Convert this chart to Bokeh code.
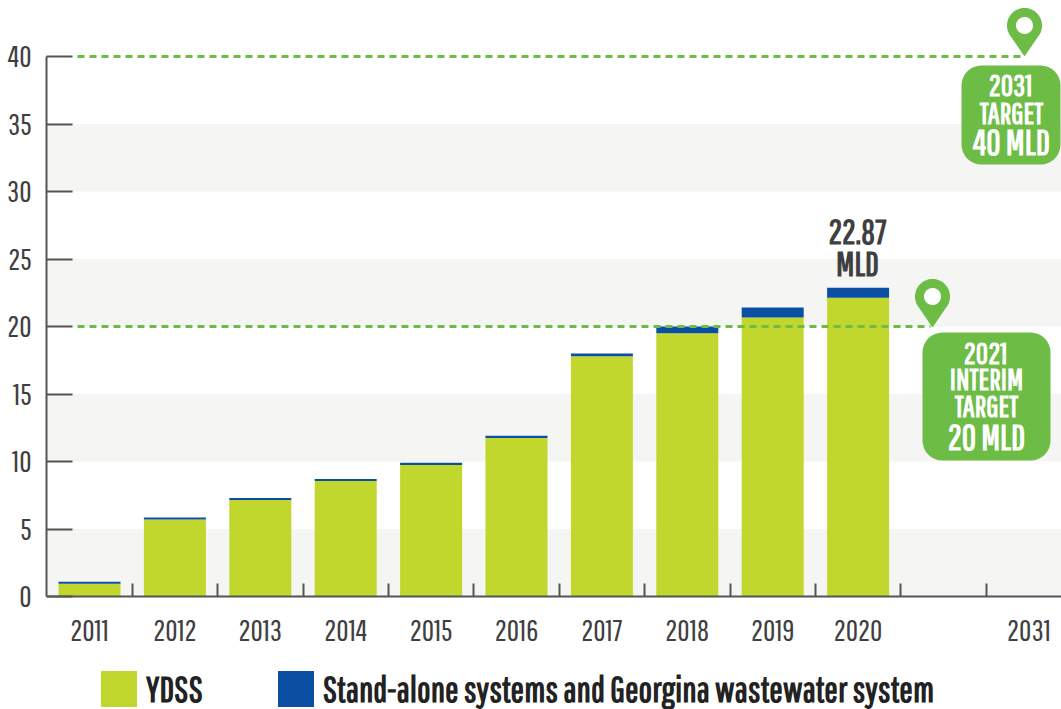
from bokeh.plotting import figure
from bokeh.embed import file_html
from bokeh.resources import INLINE
from bokeh.models import Range1d, FixedTicker, BoxAnnotation, Legend, LegendItem
from bokeh.core.properties import value
import numpy as np

years = [2011, 2012, 2013, 2014, 2015, 2016, 2017, 2018, 2019, 2020]
slots = [0, 1, 2, 3, 4, 5, 6, 7, 8, 9]
ydss = [0.95, 5.7, 7.15, 8.55, 9.75, 11.75, 17.8, 19.5, 20.67, 22.13]
standalone = [0.15, 0.15, 0.15, 0.15, 0.15, 0.15, 0.2, 0.5, 0.73, 0.74]
y_ticks = [0, 5, 10, 15, 20, 25, 30, 35, 40]
bands_low = [0, 10, 20, 30]
bands_high = [5, 15, 25, 35]
tick_labels = {0: "2011", 1: "2012", 2: "2013", 3: "2014", 4: "2015", 5: "2016",
               6: "2017", 7: "2018", 8: "2019", 9: "2020", 11: "2031"}
boundaries = [0.5, 1.5, 2.5, 3.5, 4.5, 5.5, 6.5, 7.5, 8.5, 9.5, 10.5]

NARROW = "Pathway Gothic One, Roboto"
GREEN = "#6cbc45"
LIME = "#c1d72e"
BLUE = "#0b4fa3"
INK = "#3f3f41"

SX, X0 = 85.4, 89.0
SY, Y0 = 13.5, 596.0
LEFT, RIGHT, TOP, BOTTOM = 46, 1061, 0, 709
X = lambda px: (px - X0) / SX
Y = lambda py: (Y0 - py) / SY

p = figure(width=1061, height=709, output_backend="svg", toolbar_location=None,
           x_range=Range1d(X(LEFT), X(RIGHT)), y_range=Range1d(Y(BOTTOM), Y(TOP)),
           min_border_left=46, min_border_right=0, min_border_top=0, min_border_bottom=0,
           background_fill_color="white", border_fill_color="white")
p.outline_line_color = None
p.grid.visible = False

p.quad(left=X(LEFT), right=X(RIGHT), bottom=bands_low, top=bands_high,
       fill_color="#f5f5f3", line_color=None, level="underlay")

ya = p.yaxis[0]
ya.ticker = FixedTicker(ticks=y_ticks)
ya.bounds = (0, 40)
ya.axis_line_color = "#555555"
ya.axis_line_width = 2
ya.major_tick_in = 26
ya.major_tick_out = 0
ya.major_tick_line_color = "#555555"
ya.major_tick_line_width = 2
ya.minor_tick_line_color = None
ya.major_label_text_font = NARROW
ya.major_label_text_font_size = "30px"
ya.major_label_text_color = INK
ya.major_label_text_baseline = "top"
ya.major_label_standoff = 15

xa = p.xaxis[0]
xa.fixed_location = 0
xa.ticker = FixedTicker(ticks=list(tick_labels.keys()), minor_ticks=boundaries)
xa.major_label_overrides = tick_labels
xa.axis_line_color = "#555555"
xa.axis_line_width = 2
xa.major_tick_line_color = None
xa.major_tick_in = 0
xa.major_tick_out = 0
xa.minor_tick_in = 13
xa.minor_tick_out = 0
xa.minor_tick_line_color = "#555555"
xa.minor_tick_line_width = 2
xa.major_label_text_font = NARROW
xa.major_label_text_font_size = "30px"
xa.major_label_text_color = INK
xa.major_label_standoff = 23

w = 62 / SX
top2 = [a + b for a, b in zip(ydss, standalone)]
r1 = p.vbar(x=slots, width=w, bottom=0, top=ydss, fill_color=LIME, line_color=None)
r2 = p.vbar(x=slots, width=w, bottom=ydss, top=top2, fill_color=BLUE, line_color=None)

for val, end_px in ((40, 1020), (20, 930)):
    p.line([X(77), X(end_px)], [val, val], line_color=GREEN, line_width=3, line_dash="7 5")


def pin(tip_px, tip_py):
    r = 17.5
    cy = tip_py - 31
    a = np.linspace(np.radians(-35), np.radians(215), 60)
    xs = [tip_px] + list(tip_px + r * np.cos(a)) + [tip_px]
    ys = [tip_py] + list(cy - r * np.sin(a)) + [tip_py]
    p.patch([X(v) for v in xs], [Y(v) for v in ys], fill_color=GREEN, line_color=None)
    t = np.linspace(0, 2 * np.pi, 40)
    p.patch([X(v) for v in tip_px + 8.5 * np.cos(t)], [Y(v) for v in cy + 8.5 * np.sin(t)],
            fill_color="white", line_color=None)


pin(1024, 56)
pin(932, 327)


def callout(l, r, t, b):
    p.add_layout(BoxAnnotation(left=X(l), right=X(r), top=Y(t), bottom=Y(b),
                               fill_color=GREEN, fill_alpha=1, line_color=None,
                               border_radius=20, level="underlay"))


callout(961, 1060, 65, 164)
callout(922, 1050, 332, 460)


def label(px, py, s, size, color="white"):
    p.text([X(px)], [Y(py)], text=[s], text_font=value(NARROW), text_font_style="bold",
           text_font_size=size, text_color=color, text_align="center",
           text_baseline="middle", level="overlay")


label(1010, 84, "2031", "30px")
label(1011, 112, "TARGET", "30px")
label(1011, 141, "40 MLD", "35px")
label(985, 352, "2021", "30px")
label(986, 378, "INTERIM", "30px")
label(986, 405, "TARGET", "30px")
label(986, 436, "20 MLD", "35px")
label(857, 231, "22.87", "34px", INK)
label(857, 263, "MLD", "34px", INK)

legend = Legend(items=[LegendItem(label="YDSS", renderers=[r1]),
                       LegendItem(label="Stand-alone systems and Georgina wastewater system", renderers=[r2])],
                orientation="horizontal", location=(50, -2), padding=0, margin=0,
                spacing=70, glyph_width=45, glyph_height=45, label_standoff=5,
                border_line_color=None, background_fill_alpha=0,
                label_text_font=NARROW, label_text_font_style="bold",
                label_text_font_size="36px", label_text_color="#222222",
                label_height=45)
p.add_layout(legend, "center")

open("out.html", "w").write(file_html(p, INLINE))
